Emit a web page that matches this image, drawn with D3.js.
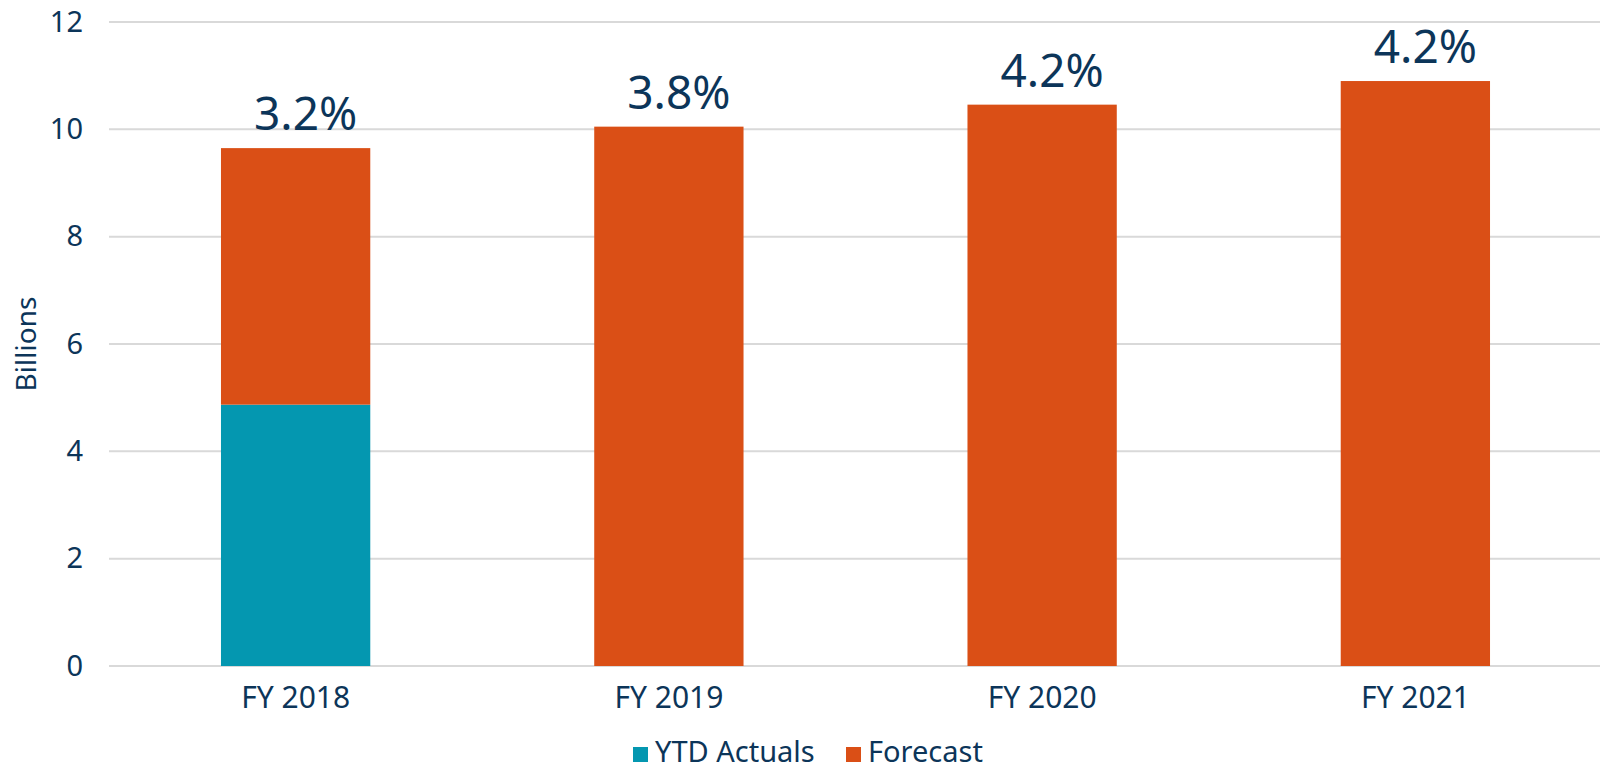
<!DOCTYPE html>
<html>
<head>
<meta charset="utf-8">
<script src="https://cdn.jsdelivr.net/npm/d3@7"></script>
<style>
  body { margin: 0; background: #fff; }
  svg text { font-family: "Noto Sans", Lato, sans-serif; fill: #0c3559; }
</style>
</head>
<body>
<svg id="chart" width="1600" height="768"></svg>
<script>
// data
const categories = ["FY 2018", "FY 2019", "FY 2020", "FY 2021"];
const ytdActuals = [4.87, 0, 0, 0];
const forecast = [4.78, 10.05, 10.46, 10.9];
const growthLabels = ["3.2%", "3.8%", "4.2%", "4.2%"];
const yTicks = [0, 2, 4, 6, 8, 10, 12];
const seriesNames = ["YTD Actuals", "Forecast"];

const TEAL = "#0497b0";
const ORANGE = "#da4f16";
const NAVY = "#0c3559";
const GRID = "#d9d9d9";

const width = 1600;
const height = 768;
const margin = { left: 109, right: 0, top: 22, bottom: 102 };
const contentsWidth = 1493;
const contentsHeight = height - margin.top - margin.bottom;

const svg = d3.select("#chart");
const contentsG = svg.append("g")
    .attr("class", "chart-contents")
    .attr("transform", `translate(${margin.left}, ${margin.top})`);

const x = d3.scaleBand()
    .domain(categories)
    .range([0, contentsWidth])
    .paddingInner(0.6)
    .paddingOuter(0.3);

const y = d3.scaleLinear()
    .domain([0, 12])
    .range([contentsHeight, 0]);

//gridlines
contentsG.selectAll("line.grid")
    .data(yTicks)
    .enter()
    .append("line")
        .attr("class", "grid")
        .attr("x1", 0)
        .attr("x2", contentsWidth)
        .attr("y1", d => y(d))
        .attr("y2", d => y(d))
        .attr("stroke", GRID)
        .attr("stroke-width", 2);

//y axis labels
const yAxisG = contentsG.append("g").attr("class", "y-axis")
    .call(d3.axisLeft(y).tickValues(yTicks).tickSize(0).tickPadding(26));
yAxisG.select(".domain").remove();
yAxisG.selectAll("text")
    .attr("font-size", 29)
    .attr("fill", NAVY)
    .style("font-family", "'Noto Sans', Lato, sans-serif");

//x axis labels
const xAxisG = contentsG.append("g").attr("class", "x-axis")
    .attr("transform", `translate(0, ${contentsHeight})`)
    .call(d3.axisBottom(x).tickSize(0).tickPadding(21));
xAxisG.select(".domain").remove();
xAxisG.selectAll("text")
    .attr("font-size", 30)
    .attr("fill", NAVY)
    .style("font-family", "'Noto Sans', Lato, sans-serif");

//stacked bars
const stackData = categories.map((c, i) => ({ key: c, ytd: ytdActuals[i], forecast: forecast[i] }));
const stacked = d3.stack().keys(["ytd", "forecast"])(stackData);
const colours = { ytd: TEAL, forecast: ORANGE };

contentsG.selectAll("g.series")
    .data(stacked)
    .enter()
    .append("g")
        .attr("class", d => `series series-${d.key}`)
        .attr("fill", d => colours[d.key])
        .selectAll("rect")
        .data(d => d)
        .enter()
        .append("rect")
            .attr("x", d => x(d.data.key))
            .attr("width", x.bandwidth())
            .attr("y", d => y(d[1]))
            .attr("height", d => y(d[0]) - y(d[1]));

//growth labels
contentsG.selectAll("text.growth")
    .data(stackData)
    .enter()
    .append("text")
        .attr("class", "growth")
        .attr("x", d => x(d.key) + x.bandwidth() / 2 + 10)
        .attr("y", d => y(d.ytd + d.forecast) - 18)
        .attr("text-anchor", "middle")
        .attr("font-size", 46)
        .text((d, i) => growthLabels[i]);

//y axis title
svg.append("text")
    .attr("transform", `translate(36, ${margin.top + contentsHeight / 2}) rotate(-90)`)
    .attr("text-anchor", "middle")
    .attr("font-size", 28)
    .text("Billions");

//legend
const legendG = svg.append("g").attr("class", "legend")
    .attr("transform", "translate(633, 762)");
const legendX = [0, 213];
const legendItems = legendG.selectAll("g.legend-item")
    .data(seriesNames)
    .enter()
    .append("g")
        .attr("class", "legend-item")
        .attr("transform", (d, i) => `translate(${legendX[i]}, 0)`);
legendItems.append("rect")
    .attr("y", -15)
    .attr("width", 15)
    .attr("height", 15)
    .attr("fill", (d, i) => [TEAL, ORANGE][i]);
legendItems.append("text")
    .attr("x", 22)
    .attr("font-size", 29)
    .text(d => d);
</script>
</body>
</html>
